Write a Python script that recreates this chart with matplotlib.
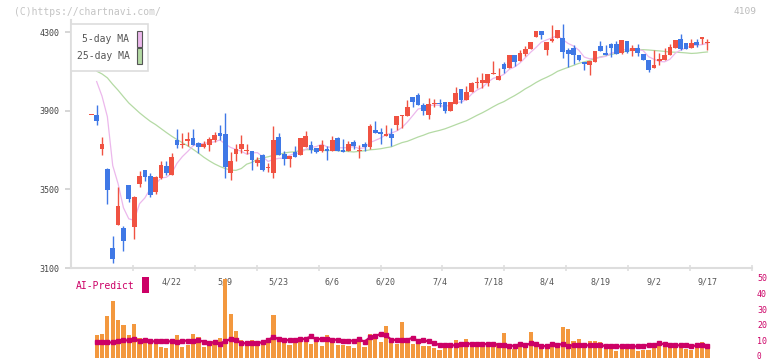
import numpy as np
import pandas as pd
import matplotlib
matplotlib.use("Agg")
import matplotlib.pyplot as plt
from matplotlib.patches import Rectangle
from matplotlib.transforms import offset_copy

# daily OHLC, 2025/4/1 .. 9/17 (index 0 = 4/1)
opens = [3879, 3879, 3708, 3604, 3202, 3319, 3305, 3523, 3311, 3529,
         3599, 3569, 3487, 3558, 3620, 3575, 3751, 3728, 3748, 3764,
         3738, 3718, 3728, 3750, 3787, 3782, 3585, 3680, 3706, 3695,
         3696, 3635, 3675, 3609, 3585, 3767, 3680, 3655, 3691, 3675,
         3716, 3726, 3711, 3696, 3706, 3696, 3762, 3701, 3696, 3741,
         3696, 3731, 3716, 3803, 3792, 3772, 3782, 3828, 3874, 3874,
         3970, 3981, 3930, 3879, 3935, 3940, 3945, 3899, 3935, 4011,
         3955, 3996, 4042, 4042, 4042, 4088, 4057, 4139, 4118, 4184,
         4154, 4189, 4215, 4276, 4306, 4210, 4255, 4271, 4271, 4210,
         4220, 4184, 4149, 4133, 4149, 4230, 4194, 4240, 4240, 4194,
         4255, 4205, 4220, 4189, 4159, 4118, 4154, 4159, 4184, 4220,
         4266, 4245, 4220, 4250, 4266, 4245]
highs = [3879, 3930, 3766, 3609, 3263, 3513, 3314, 3525, 3465, 3594,
         3600, 3584, 3569, 3643, 3646, 3687, 3808, 3786, 3791, 3808,
         3740, 3745, 3766, 3791, 3828, 3889, 3692, 3733, 3779, 3731,
         3698, 3665, 3680, 3635, 3823, 3787, 3697, 3672, 3719, 3764,
         3798, 3746, 3713, 3752, 3721, 3772, 3767, 3757, 3746, 3752,
         3726, 3741, 3833, 3848, 3813, 3828, 3813, 3874, 3879, 3955,
         3972, 3991, 3940, 3965, 3960, 3960, 3947, 3947, 4021, 4013,
         4026, 4047, 4072, 4093, 4090, 4154, 4118, 4149, 4184, 4186,
         4210, 4230, 4250, 4306, 4308, 4250, 4337, 4314, 4342, 4220,
         4235, 4186, 4151, 4156, 4207, 4255, 4235, 4245, 4255, 4263,
         4257, 4235, 4240, 4191, 4161, 4210, 4194, 4220, 4240, 4263,
         4291, 4247, 4266, 4266, 4278, 4266]
lows = [3879, 3828, 3675, 3428, 3127, 3319, 3188, 3435, 3249, 3513,
        3545, 3460, 3478, 3555, 3575, 3575, 3713, 3713, 3720, 3728,
        3684, 3713, 3697, 3743, 3752, 3557, 3550, 3645, 3685, 3682,
        3597, 3619, 3594, 3587, 3558, 3675, 3625, 3614, 3663, 3673,
        3714, 3685, 3685, 3691, 3650, 3694, 3694, 3689, 3694, 3706,
        3660, 3696, 3706, 3785, 3731, 3770, 3721, 3803, 3813, 3872,
        3920, 3928, 3879, 3859, 3920, 3920, 3889, 3897, 3933, 3940,
        3953, 3994, 4016, 4016, 4026, 4086, 4055, 4093, 4116, 4129,
        4152, 4179, 4213, 4274, 4266, 4184, 4253, 4269, 4169, 4123,
        4138, 4154, 4108, 4083, 4147, 4203, 4182, 4174, 4187, 4192,
        4197, 4179, 4179, 4157, 4098, 4116, 4133, 4157, 4182, 4218,
        4210, 4213, 4218, 4225, 4240, 4210]
closes = [3879, 3850, 3733, 3497, 3148, 3416, 3239, 3451, 3462, 3569,
          3563, 3473, 3563, 3625, 3585, 3665, 3728, 3733, 3757, 3728,
          3718, 3733, 3757, 3777, 3774, 3616, 3645, 3706, 3731, 3700,
          3650, 3650, 3599, 3614, 3752, 3675, 3655, 3670, 3665, 3762,
          3772, 3701, 3691, 3726, 3696, 3752, 3696, 3691, 3731, 3721,
          3701, 3716, 3823, 3787, 3782, 3782, 3762, 3874, 3879, 3920,
          3945, 3930, 3899, 3935, 3940, 3935, 3899, 3945, 3991, 3955,
          3996, 4042, 4047, 4057, 4088, 4093, 4078, 4113, 4184, 4149,
          4194, 4215, 4250, 4306, 4286, 4250, 4266, 4312, 4199, 4189,
          4184, 4159, 4139, 4154, 4205, 4205, 4184, 4220, 4189, 4261,
          4199, 4220, 4194, 4159, 4108, 4133, 4164, 4184, 4225, 4261,
          4215, 4215, 4245, 4235, 4276, 4250]

ma5_head = [4049, 3975, 3870]                      # index 1..3
ma25_head = [4102, 4088, 4068, 4035, 4005, 3972, 3940, 3915, 3890, 3868,
             3847, 3830, 3810, 3790, 3771, 3754, 3738, 3722, 3704, 3685,
             3664, 3646, 3630]                     # index 1..23

volume = [np.nan, 14.0, 14.7, 26.0, 35.4, 23.5, 20.3, 14.0, 21.0, 12.2,
          9.0, 10.9, 8.4, 6.5, 5.9, 9.0, 14.0, 6.5, 7.8, 14.7,
          12.8, 6.5, 9.0, 10.3, 12.2, 49.3, 27.3, 16.6, 10.9, 9.0,
          10.9, 9.0, 10.3, 9.0, 26.6, 9.6, 10.9, 7.8, 9.0, 11.5,
          9.6, 8.4, 9.6, 7.1, 14.0, 12.2, 7.8, 7.8, 7.1, 5.9,
          12.8, 6.5, 14.7, 12.8, 9.6, 19.7, 10.3, 8.4, 22.2, 10.9,
          8.4, 9.6, 7.1, 7.1, 5.9, 4.6, 6.5, 6.5, 10.9, 9.6,
          11.5, 7.1, 9.0, 9.0, 9.0, 8.4, 9.0, 15.3, 6.7, 5.2,
          7.1, 7.1, 15.9, 7.8, 6.5, 8.4, 9.0, 6.5, 19.1, 17.8,
          10.3, 11.5, 7.1, 10.3, 10.3, 9.6, 5.2, 5.9, 4.0, 5.9,
          5.2, 5.9, 4.0, 4.6, 4.6, 6.5, 7.8, 8.4, 7.8, 6.5,
          5.9, 5.2, 4.6, 5.9, 9.6, 5.9]
ai_predict = [np.nan, 9.6, 9.6, 9.6, 9.6, 10.5, 10.9, 10.9, 11.5, 10.7,
              11.3, 10.3, 10.3, 10.3, 10.3, 10.3, 9.6, 10.7, 10.7, 10.7,
              10.9, 10.1, 9.4, 9.6, 8.8, 10.5, 11.7, 10.9, 9.2, 9.0,
              9.0, 9.0, 9.9, 10.9, 13.2, 11.5, 11.3, 10.9, 10.9, 11.7,
              11.9, 13.4, 11.5, 11.9, 11.5, 11.3, 11.3, 10.7, 10.7, 10.7,
              11.5, 10.1, 12.8, 13.4, 15.1, 14.0, 11.3, 11.1, 11.1, 11.3,
              12.6, 10.3, 10.9, 10.3, 9.4, 7.8, 7.8, 7.8, 7.8, 8.8,
              8.8, 8.8, 8.8, 8.8, 8.4, 8.4, 8.2, 8.2, 7.5, 7.5,
              8.4, 7.8, 9.0, 8.4, 7.3, 7.3, 8.4, 7.8, 8.8, 7.5,
              7.8, 7.8, 7.8, 7.8, 7.8, 8.2, 7.1, 7.1, 7.1, 7.1,
              7.1, 7.1, 7.1, 7.1, 8.2, 7.8, 9.2, 8.4, 7.8, 7.8,
              7.8, 7.8, 7.1, 7.8, 7.8, 7.1]

date_idx = [15, 25, 35, 45, 55, 65, 75, 85, 95, 105, 115]
date_labels = ["4/22", "5/9", "5/23", "6/6", "6/20", "7/4", "7/18",
               "8/4", "8/19", "9/2", "9/17"]
price_ticks = [3100, 3500, 3900, 4300]
vol_ticks = [0, 10, 20, 30, 40, 50]

RED = "#f05242"
BLUE = "#3f78e6"
PINK = "#ecb8ec"
GREEN = "#b4daa4"
CRIMSON = "#cc0066"
ORANGE = "#f3983e"
MONO = "DejaVu Sans Mono"

W, H = 772, 361
fig = plt.figure(figsize=(W / 100, H / 100), dpi=100)


def box(x0, y0, x1, y1):
    # pixel box (top-left origin) -> figure fraction rect
    return [x0 / W, 1 - y1 / H, (x1 - x0) / W, (y1 - y0) / H]


ax = fig.add_axes(box(70.7, 20, 752.3, 268))
axv = fig.add_axes(box(70.7, 268, 752.3, 361), sharex=ax)

n = len(closes)
x = np.arange(n)
o = np.array(opens, float)
c = np.array(closes, float)
hi = np.array(highs, float)
lo = np.array(lows, float)

# candles
up = c >= o
cols = np.where(up, RED, BLUE)
ax.vlines(x, lo, hi, colors=cols, lw=1.0, zorder=3)
body = np.maximum(np.abs(c - o), 5)
ax.bar(x, body, bottom=np.minimum(o, c), width=0.88, color=cols, zorder=4)

# moving averages
s = pd.Series(c)
ma5 = s.rolling(5).mean()
ma25 = s.rolling(25).mean()
ma5.iloc[1:1 + len(ma5_head)] = ma5_head
ma25.iloc[1:1 + len(ma25_head)] = ma25_head
ax.plot(x, ma25, color=GREEN, lw=0.9, zorder=2)
ax.plot(x, ma5, color=PINK, lw=0.9, zorder=2)

# main axis styling
px0, step = 91.3, 5.358
xlo, xhi = (70.7 - px0) / step, (752.3 - px0) / step
ax.set_xlim(xlo, xhi)
ax.set_ylim(3100, 3100 + 248 * 5.091)
for sp in ["top", "right"]:
    ax.spines[sp].set_visible(False)
for sp in ["left", "bottom"]:
    ax.spines[sp].set_color("#dddddd")
    ax.spines[sp].set_linewidth(1.5)
ax.set_yticks(price_ticks)
ax.set_yticklabels([str(t) for t in price_ticks], fontsize=6, family=MONO, color="#444444")
ax.tick_params(axis="y", length=4.5, width=1.1, color="#cccccc", pad=3.5)
ax.set_xticks(np.linspace(xlo, xhi, 12)[1:])
ax.tick_params(axis="x", direction="inout", length=5, width=1.1, color="#dddddd",
               labelbottom=False)

# legend box
fig.patches.append(Rectangle((70.7 / W, 1 - 71.3 / H), 77.6 / W, 47.3 / H,
                             transform=fig.transFigure, facecolor="white",
                             edgecolor="#dddddd", lw=1.2, zorder=5))
for label, col, yc in [("5-day MA", PINK, 39), ("25-day MA", GREEN, 56)]:
    fig.text(129.5 / W, 1 - yc / H, label, ha="right", va="center",
             fontsize=7, family=MONO, color="#555555", zorder=6)
    fig.patches.append(Rectangle((136.7 / W, 1 - (yc + 7.5) / H), 5.6 / W, 15 / H,
                                 transform=fig.transFigure, facecolor=col,
                                 edgecolor="#555555", lw=0.8, zorder=6))

# volume / AI-Predict panel
for t, lab in zip(date_idx, date_labels):
    axv.text(t, (361 - 282) / 93, lab, transform=axv.get_xaxis_transform(),
             ha="center", va="center", fontsize=6, family=MONO, color="#555555", zorder=1)
axv.bar(x, volume, width=0.78, color=ORANGE, zorder=2)
axv.plot(x, ai_predict, color=CRIMSON, lw=1.6, marker="s", ms=2.2, zorder=3)
axv.set_ylim(-(361 - 357.7) / 1.588, (357.7 - 268) / 1.588)
axv.patch.set_visible(False)
for sp in axv.spines.values():
    sp.set_visible(False)
axv.set_yticks([])
axv.tick_params(axis="x", bottom=False, labelbottom=False)
# right-hand volume scale, drawn as text so the bottom "0" stays inside the image
vtr = offset_copy(axv.get_yaxis_transform(), fig=fig, x=4.7, y=0, units="dots")
for t in vol_ticks:
    axv.text(1.0, t if t else 1.0, str(t), transform=vtr, ha="left", va="center",
             fontsize=6 if t else 5.6, family=MONO, color=CRIMSON)

fig.text(76 / W, 1 - 286 / H, "AI-Predict", ha="left", va="center",
         fontsize=7, family=MONO, color=CRIMSON)
fig.patches.append(Rectangle((142 / W, 1 - 293 / H), 7 / W, 16 / H,
                             transform=fig.transFigure, facecolor=CRIMSON, lw=0))

fig.text(14 / W, 1 - 12 / H, "(C)https://chartnavi.com/", ha="left", va="center",
         fontsize=7, family=MONO, color="#c4c4c4")
fig.text(757 / W, 1 - 12 / H, "4109", ha="right", va="center",
         fontsize=6.8, family=MONO, color="#bcbcbc")

fig.savefig("out.png", dpi=100)
